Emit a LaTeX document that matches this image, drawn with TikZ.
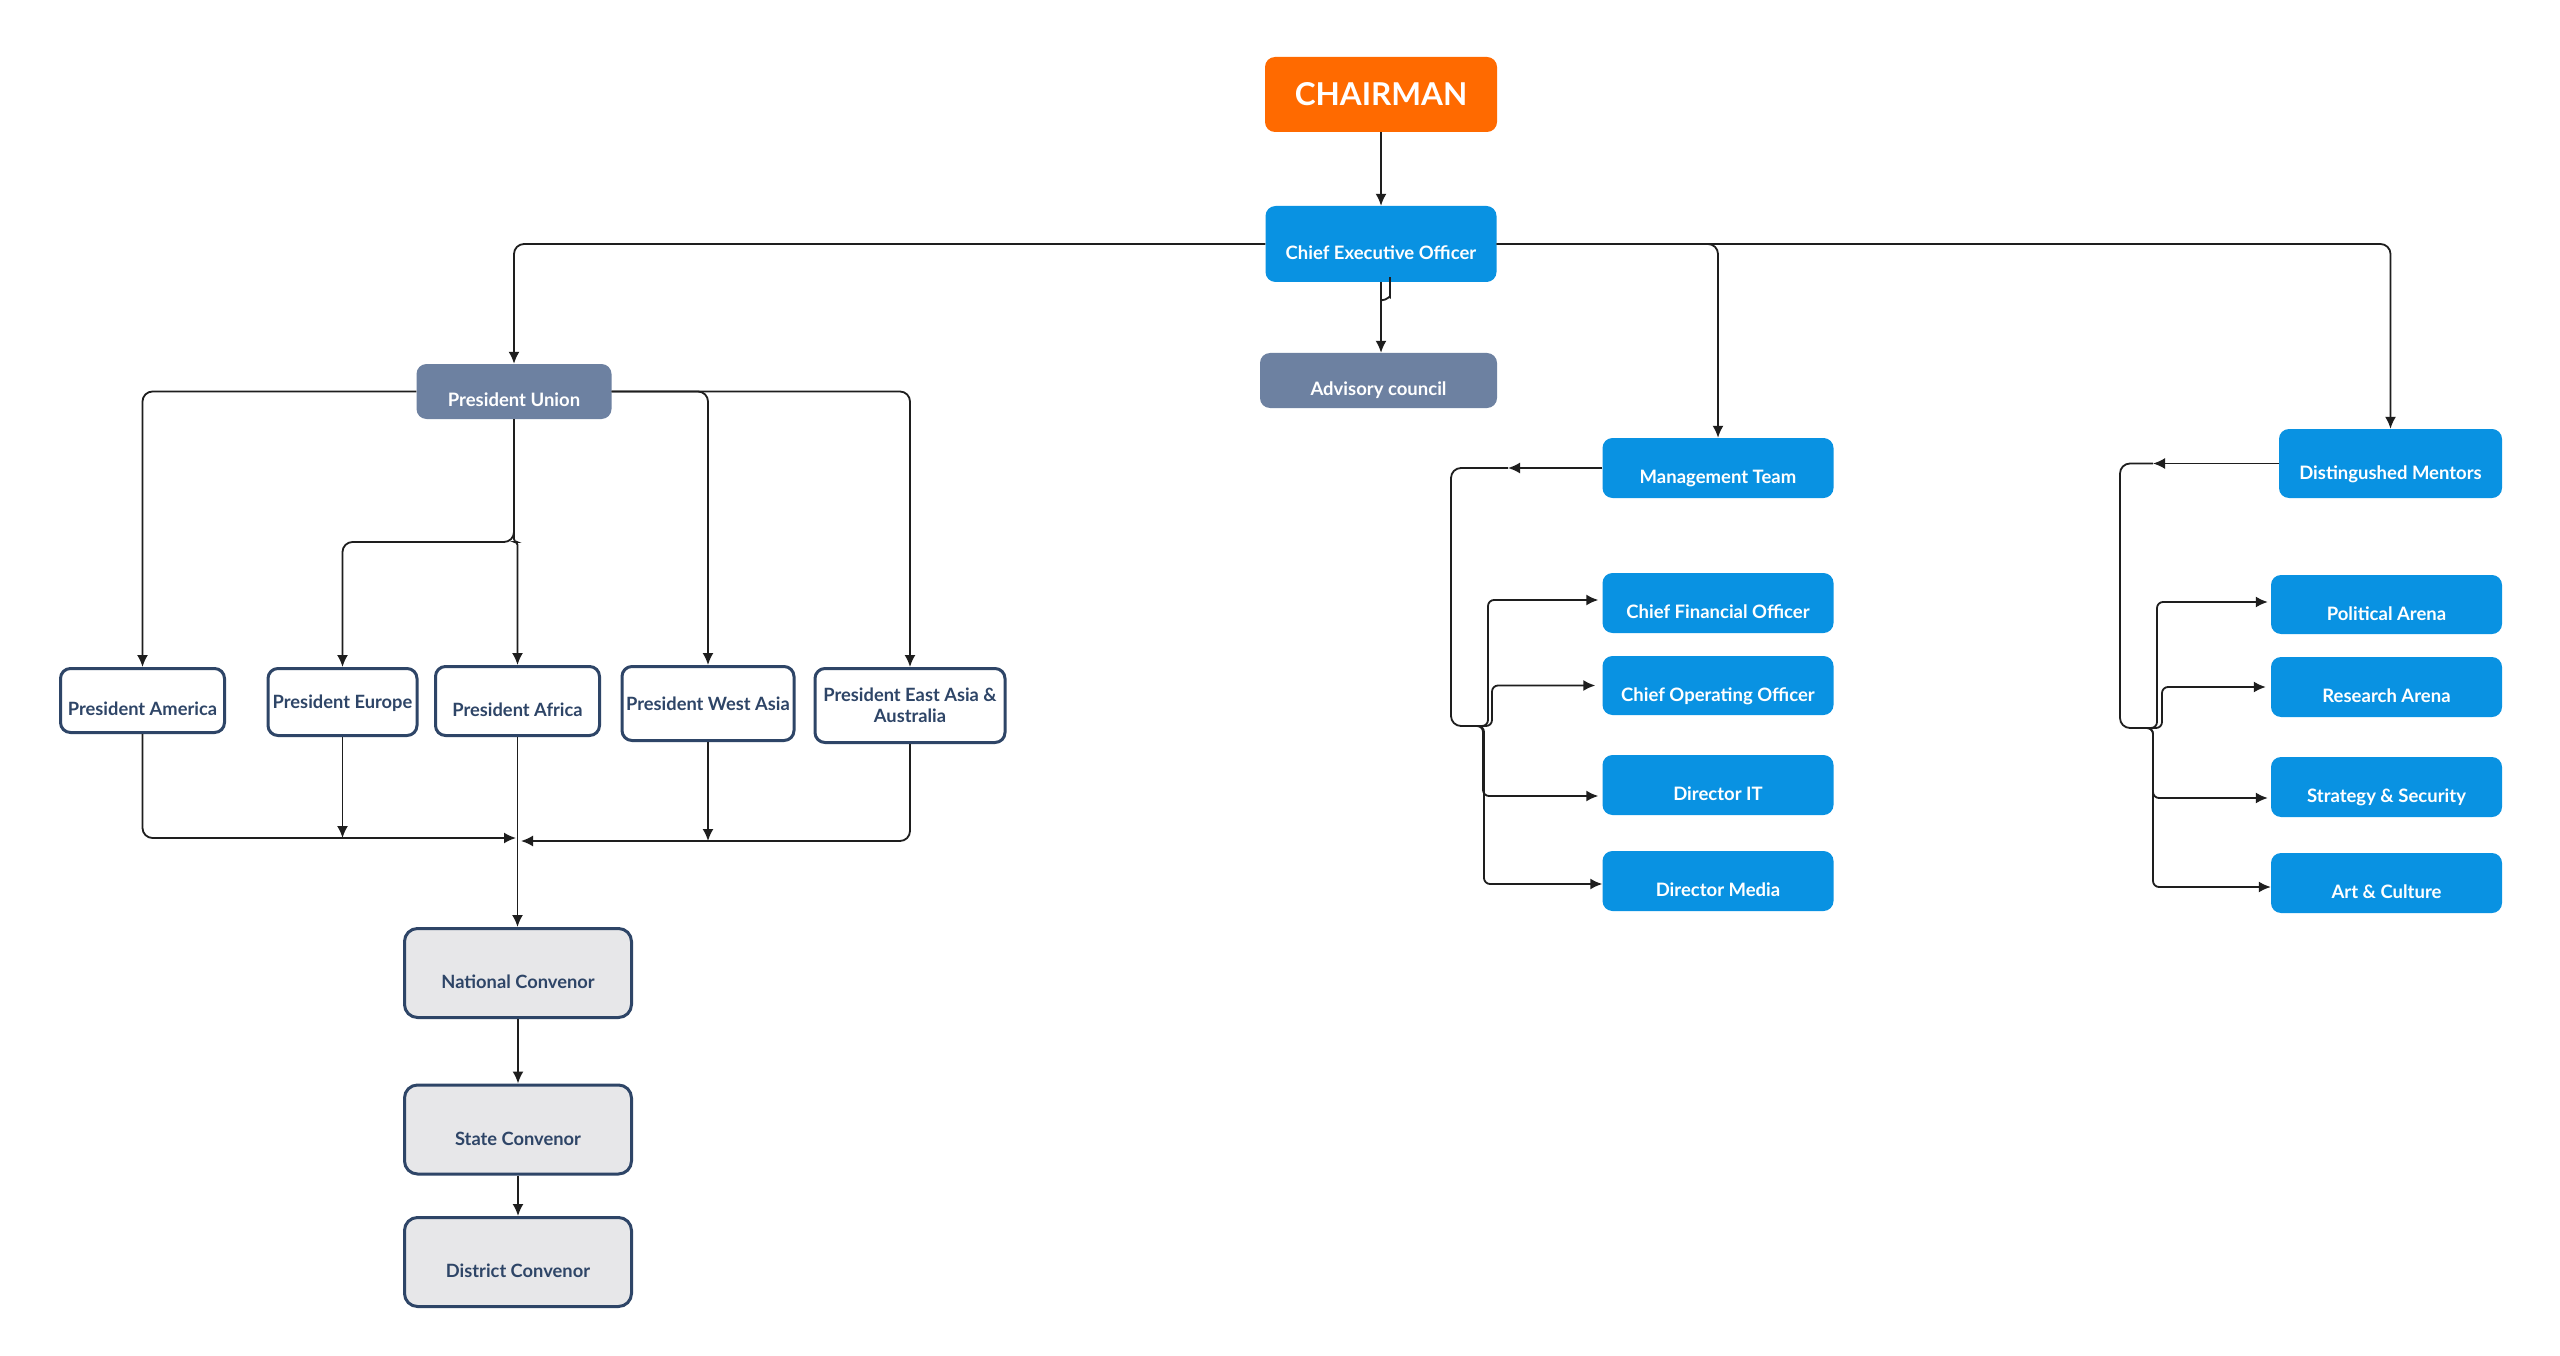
\documentclass[tikz,border=0pt]{standalone}
\usepackage{fontspec}
\setmainfont{Lato}
\usetikzlibrary{arrows.meta}
\definecolor{orng}{HTML}{FF6A00}
\definecolor{blu}{HTML}{0992E2}
\definecolor{slate}{HTML}{6D81A1}
\definecolor{navy}{HTML}{2E4567}
\definecolor{lgray}{HTML}{E7E7E9}
\definecolor{lnc}{HTML}{1E1E1E}
\begin{document}
\begin{tikzpicture}[x=1pt,y=-1pt,
  box/.style={rectangle, rounded corners=10pt, inner sep=2pt, align=center},
  low/.style={text height=31pt, text depth=0pt},
  mid/.style={text height=13pt, text depth=0pt},
  bluebox/.style={box, fill=blu, text=white, font=\bfseries\fontsize{18.5}{21}\selectfont, minimum width=231pt, minimum height=60pt, low},
  slatebox/.style={box, fill=slate, text=white, font=\bfseries\fontsize{18.5}{21}\selectfont, low},
  presbox/.style={box, draw=navy, line width=3pt, fill=white, text=navy, font=\bfseries\fontsize{18.3}{21}\selectfont},
  convbox/.style={box, rounded corners=13pt, draw=navy, line width=3pt, fill=lgray, text=navy, font=\bfseries\fontsize{18.3}{21}\selectfont, minimum width=227pt, minimum height=89pt, low},
  conn/.style={draw=lnc, line width=1.8pt, rounded corners=10pt},
  arr/.style={conn, -{Latex[length=12pt,width=11pt]}}
]
\useasboundingbox[fill=white] (0,0) rectangle (2560,1356);

% top
\node[box, fill=orng, text=white, font=\bfseries\fontsize{31.5}{35}\selectfont, minimum width=232pt, minimum height=75pt, text height=22pt, text depth=0pt] (chair) at (1381,94.5) {CHAIRMAN};
\node[bluebox, minimum height=76pt] (ceo) at (1381,244) {Chief Executive Officer};
\node[slatebox, minimum width=237pt, minimum height=55pt, text height=29pt] (adv) at (1378.5,380.5) {Advisory council};

% president union branch
\node[slatebox, minimum width=195pt, minimum height=55pt, text height=30pt] (pu) at (514,391.5) {President Union};
\node[presbox, minimum width=164pt, minimum height=64pt, low, text height=29pt] (pam) at (142.5,700.5) {President America};
\node[presbox, minimum width=149pt, minimum height=67pt, mid] (peu) at (342.5,702) {President Europe};
\node[presbox, minimum width=164pt, minimum height=69pt, low] (pafr) at (517.5,701) {President Africa};
\node[presbox, minimum width=172pt, minimum height=74pt, mid] (pwa) at (708,703.5) {President West Asia};
\node[presbox, minimum width=190pt, minimum height=74pt] (pea) at (910,705.5) {President East Asia \&\\Australia};
\node[convbox] (nat) at (518,973) {National Convenor};
\node[convbox] (sta) at (518,1129.5) {State Convenor};
\node[convbox] (dis) at (518,1262) {District Convenor};

% management branch
\node[bluebox] (mt) at (1718,468) {Management Team};
\node[bluebox] (cfo) at (1718,603) {Chief Financial Officer};
\node[bluebox, minimum height=59pt] (coo) at (1718,685.5) {Chief Operating Officer};
\node[bluebox] (dit) at (1718,785) {Director IT};
\node[bluebox] (dmed) at (1718,881) {Director Media};

% mentors branch
\node[bluebox, minimum width=223pt, minimum height=69pt] (dm) at (2390.5,463.5) {Distingushed Mentors};
\node[bluebox, minimum height=59pt] (pa) at (2386.5,604.5) {Political Arena};
\node[bluebox] (ra) at (2386.5,687) {Research Arena};
\node[bluebox] (ss) at (2386.5,787) {Strategy \& Security};
\node[bluebox] (ac) at (2386.5,883) {Art \& Culture};

% coordinates
\coordinate (pus) at (514,542);
\coordinate (jl) at (516,838);
\coordinate (jr) at (521,841);
\coordinate (mtarr) at (1508,468);
\coordinate (mtbot) at (1451,726);
\coordinate (mj) at (1478,726);
\coordinate (dmarr) at (2153,463.5);
\coordinate (dmbot) at (2120,728);
\coordinate (dj) at (2147,728);

% connectors top
\draw[arr] (chair) -- (ceo);
\draw[arr] (ceo.south) -- (ceo.south |- adv.north);
\draw[conn] ([xshift=9pt]ceo.south) -- ++(0,5) .. controls +(0,8) and +(5,0) .. ++(-8,13);
\draw[arr] (ceo.west) -| (pu.north);
\draw[arr] (ceo.east) -| (mt.north);
\draw[arr] (ceo.east) -| (dm.north);

% president union
\draw[arr] (pu.west) -| (pam.north);
\draw[arr] (pu.east) -| (pwa.north);
\draw[arr] (pu.east) -| (pea.north);
\draw[arr] (pu.south) -- (pus) -| (peu.north);
\draw[arr, rounded corners=3pt] (pu.south) -- (pus) -| (pafr.north);

\draw[arr] (pam.south) |- (jl);
\draw[arr] (peu.south) -- (peu.south |- jl);
\draw[arr] (pafr.south) -- (pafr.south |- nat.north);
\draw[arr] (pwa.south) -- (pwa.south |- jr);
\draw[arr] (pea.south) |- (jr);
\draw[arr] (nat) -- (sta);
\draw[arr] (sta) -- (dis);

% management
\draw[arr] (mt.west) -- (mtarr);
\draw[conn] (mtarr) -| (mtbot) -- (mj);
\draw[arr, rounded corners=6pt] (mj) -| (1488,600) -- ([xshift=-4pt,yshift=3pt]cfo.west);
\draw[arr, rounded corners=6pt] (mj) -| (1492,685.5) -- ([xshift=-7pt]coo.west);
\draw[arr, rounded corners=6pt] (mj) -| (1483,796) -- ([xshift=-4pt,yshift=-11pt]dit.west);
\draw[arr, rounded corners=6pt] (mj) -| (1484,884) -- ([yshift=-3pt]dmed.west);

% mentors
\draw[arr] (dm.west) -- (dmarr);
\draw[conn] (dmarr) -| (dmbot) -- (dj);
\draw[arr, rounded corners=6pt] (dj) -| (2157,602) -- ([xshift=-3pt,yshift=2.5pt]pa.west);
\draw[arr, rounded corners=6pt] (dj) -| (2162,687) -- ([xshift=-5pt]ra.west);
\draw[arr, rounded corners=6pt] (dj) -| (2153,798) -- ([xshift=-3pt,yshift=-11pt]ss.west);
\draw[arr, rounded corners=6pt] (dj) -| (2153,887) -- ([yshift=-4pt]ac.west);
\end{tikzpicture}
\end{document}
